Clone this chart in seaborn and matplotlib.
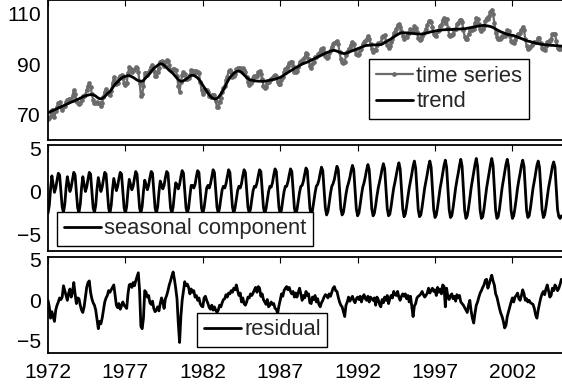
import numpy as np
import pandas as pd
import matplotlib
matplotlib.use("Agg")  # no display
import matplotlib.pyplot as plt
import seaborn as sns

# monthly values, Jan 1972 .. Mar 2005, one row per year
trend_rows = [
    [70.8, 71.0, 71.3, 71.5, 71.7, 72.0, 72.2, 72.4, 72.7, 72.9, 73.1, 73.4],
    [73.6, 73.8, 74.1, 74.3, 74.5, 74.8, 75.0, 75.2, 75.4, 75.7, 75.9, 76.1],
    [76.3, 76.6, 76.8, 77.1, 77.3, 77.5, 77.7, 77.8, 77.9, 78.0, 78.0, 77.9],
    [77.7, 77.4, 77.0, 76.6, 76.4, 76.3, 76.5, 76.8, 77.2, 77.8, 78.4, 78.8],
    [79.2, 79.9, 80.6, 81.4, 82.1, 82.6, 83.0, 83.6, 84.1, 84.5, 84.9, 85.1],
    [85.2, 85.4, 85.5, 85.5, 85.3, 85.1, 84.8, 84.5, 84.1, 83.8, 83.5, 83.4],
    [83.3, 83.3, 83.6, 84.2, 84.8, 85.3, 85.8, 86.5, 87.2, 87.8, 88.4, 88.8],
    [89.2, 89.6, 90.0, 90.2, 90.2, 90.0, 89.6, 89.2, 88.7, 88.1, 87.6, 87.2],
    [86.8, 86.3, 85.7, 85.1, 84.5, 84.0, 83.5, 83.3, 83.3, 83.5, 83.8, 84.1],
    [84.5, 84.9, 85.3, 85.6, 85.7, 85.6, 85.3, 85.0, 84.6, 84.0, 83.3, 82.5],
    [81.7, 80.9, 80.2, 79.4, 78.6, 77.9, 77.3, 76.8, 76.5, 76.3, 76.3, 76.5],
    [76.9, 77.5, 78.3, 79.1, 80.0, 80.9, 82.0, 83.0, 83.9, 84.7, 85.4, 85.9],
    [86.4, 86.8, 87.1, 87.3, 87.3, 87.1, 86.8, 86.3, 85.8, 85.3, 84.8, 84.4],
    [84.0, 83.8, 83.7, 83.6, 83.5, 83.4, 83.4, 83.3, 83.3, 83.3, 83.3, 83.3],
    [83.3, 83.4, 83.5, 83.6, 83.7, 83.8, 83.9, 84.0, 84.1, 84.3, 84.4, 84.6],
    [84.8, 85.1, 85.4, 85.8, 86.1, 86.4, 86.8, 87.1, 87.4, 87.7, 88.0, 88.3],
    [88.6, 88.9, 89.2, 89.5, 89.8, 90.1, 90.3, 90.5, 90.7, 90.9, 91.1, 91.4],
    [91.6, 91.9, 92.1, 92.4, 92.6, 92.9, 93.1, 93.4, 93.6, 93.9, 94.1, 94.4],
    [94.6, 94.8, 95.0, 95.2, 95.4, 95.5, 95.5, 95.4, 95.2, 95.0, 94.8, 94.6],
    [94.4, 94.3, 94.3, 94.4, 94.6, 94.8, 95.0, 95.2, 95.4, 95.6, 95.8, 96.0],
    [96.2, 96.4, 96.6, 96.8, 97.0, 97.2, 97.4, 97.5, 97.5, 97.6, 97.6, 97.7],
    [97.7, 97.7, 97.7, 97.7, 97.8, 97.8, 97.8, 98.0, 98.3, 98.6, 98.9, 99.2],
    [99.5, 99.8, 100.1, 100.5, 100.8, 101.2, 101.5, 101.8, 102.1, 102.3, 102.5, 102.5],
    [102.5, 102.5, 102.4, 102.4, 102.3, 102.3, 102.3, 102.2, 102.2, 102.1, 102.1, 102.0],
    [102.0, 102.0, 102.0, 102.1, 102.2, 102.4, 102.5, 102.6, 102.8, 102.9, 103.0, 103.1],
    [103.2, 103.3, 103.4, 103.4, 103.5, 103.6, 103.7, 103.7, 103.7, 103.8, 103.8, 103.8],
    [103.8, 103.8, 103.9, 103.9, 103.9, 104.0, 104.0, 104.0, 104.0, 104.1, 104.1, 104.1],
    [104.2, 104.3, 104.4, 104.5, 104.6, 104.7, 104.8, 104.9, 105.0, 105.1, 105.2, 105.3],
    [105.3, 105.4, 105.4, 105.4, 105.3, 105.2, 105.1, 105.0, 104.8, 104.6, 104.3, 104.0],
    [103.7, 103.4, 103.2, 102.9, 102.7, 102.5, 102.3, 102.1, 101.9, 101.8, 101.7, 101.6],
    [101.5, 101.4, 101.2, 101.0, 100.8, 100.6, 100.4, 100.2, 100.0, 99.8, 99.6, 99.4],
    [99.2, 99.1, 99.0, 98.8, 98.7, 98.6, 98.4, 98.3, 98.2, 98.1, 98.0, 97.9],
    [97.8, 97.8, 97.7, 97.7, 97.6, 97.6, 97.5, 97.5, 97.5, 97.4, 97.4, 97.4],
    [97.3, 97.3, 97.2],
]

seasonal_rows = [
    [-2.5, -1.6, 0.3, 1.8, 0.8, -0.1, 0.4, 1.3, 2.1, 1.9, 0.0, -1.8],
    [-2.4, -1.5, 0.4, 1.7, 0.9, 0.0, 0.5, 1.4, 2.2, 1.9, -0.1, -1.9],
    [-2.4, -1.5, 0.4, 1.7, 0.8, 0.0, 0.5, 1.4, 2.2, 2.0, 0.0, -1.9],
    [-2.4, -1.6, 0.3, 1.6, 0.8, 0.0, 0.5, 1.4, 2.2, 2.0, 0.0, -1.9],
    [-2.5, -1.6, 0.2, 1.5, 0.8, 0.1, 0.6, 1.5, 2.2, 2.0, 0.0, -1.9],
    [-2.5, -1.7, 0.1, 1.4, 0.8, 0.2, 0.6, 1.5, 2.3, 2.0, 0.0, -1.9],
    [-2.5, -1.7, 0.0, 1.3, 0.8, 0.2, 0.7, 1.6, 2.3, 2.1, 0.1, -1.9],
    [-2.5, -1.8, -0.1, 1.2, 0.8, 0.3, 0.7, 1.6, 2.3, 2.1, 0.1, -1.9],
    [-2.5, -1.8, -0.3, 1.0, 0.8, 0.3, 0.8, 1.7, 2.4, 2.1, 0.1, -1.9],
    [-2.5, -1.9, -0.5, 0.7, 0.7, 0.4, 0.8, 1.7, 2.4, 2.2, 0.1, -1.9],
    [-2.5, -1.9, -0.7, 0.4, 0.7, 0.4, 0.9, 1.7, 2.5, 2.2, 0.2, -1.8],
    [-2.5, -1.9, -0.8, 0.2, 0.6, 0.4, 0.9, 1.7, 2.5, 2.2, 0.2, -1.8],
    [-2.5, -1.9, -0.9, 0.1, 0.6, 0.4, 0.9, 1.8, 2.5, 2.2, 0.2, -1.8],
    [-2.5, -2.0, -0.9, 0.1, 0.6, 0.5, 1.0, 1.8, 2.5, 2.3, 0.2, -1.8],
    [-2.6, -2.0, -1.0, 0.0, 0.6, 0.5, 1.0, 1.9, 2.6, 2.3, 0.2, -1.8],
    [-2.6, -2.1, -1.0, 0.0, 0.6, 0.6, 1.1, 1.9, 2.6, 2.3, 0.2, -1.9],
    [-2.6, -2.1, -1.1, -0.1, 0.6, 0.7, 1.2, 2.0, 2.7, 2.4, 0.2, -1.9],
    [-2.7, -2.2, -1.2, -0.2, 0.6, 0.8, 1.3, 2.1, 2.8, 2.4, 0.2, -1.9],
    [-2.7, -2.3, -1.3, -0.2, 0.6, 0.9, 1.4, 2.2, 2.9, 2.5, 0.2, -2.0],
    [-2.7, -2.4, -1.4, -0.3, 0.5, 1.0, 1.6, 2.4, 3.0, 2.5, 0.2, -2.0],
    [-2.8, -2.5, -1.5, -0.4, 0.5, 1.0, 1.7, 2.5, 3.1, 2.5, 0.2, -2.0],
    [-2.8, -2.5, -1.6, -0.5, 0.4, 1.1, 1.8, 2.6, 3.2, 2.6, 0.3, -2.0],
    [-2.8, -2.6, -1.7, -0.6, 0.4, 1.1, 1.9, 2.7, 3.3, 2.6, 0.3, -2.0],
    [-2.9, -2.6, -1.7, -0.6, 0.4, 1.2, 2.0, 2.9, 3.5, 2.7, 0.3, -2.1],
    [-2.9, -2.7, -1.8, -0.7, 0.4, 1.2, 2.0, 2.9, 3.5, 2.8, 0.3, -2.1],
    [-3.0, -2.7, -1.8, -0.7, 0.4, 1.2, 2.1, 3.0, 3.6, 2.8, 0.3, -2.1],
    [-3.0, -2.8, -1.9, -0.7, 0.4, 1.3, 2.1, 3.0, 3.7, 2.9, 0.3, -2.2],
    [-3.1, -2.8, -1.9, -0.8, 0.4, 1.3, 2.2, 3.1, 3.8, 2.9, 0.3, -2.2],
    [-3.1, -2.9, -2.0, -0.8, 0.4, 1.3, 2.2, 3.1, 3.8, 3.0, 0.3, -2.2],
    [-3.1, -2.9, -2.0, -0.8, 0.4, 1.3, 2.2, 3.1, 3.7, 2.9, 0.3, -2.2],
    [-3.1, -2.8, -1.9, -0.8, 0.4, 1.3, 2.1, 3.0, 3.6, 2.9, 0.3, -2.2],
    [-3.0, -2.8, -1.9, -0.7, 0.4, 1.2, 2.1, 3.0, 3.5, 2.8, 0.3, -2.1],
    [-3.0, -2.7, -1.8, -0.7, 0.4, 1.2, 2.0, 2.9, 3.4, 2.8, 0.3, -2.1],
    [-2.9, -3.1, -2.8],
]

residual_rows = [
    [0.0, -0.8, -2.2, -1.4, -2.0, -2.6, -1.2, -0.6, -0.2, 0.3, 0.1, 0.4],
    [1.8, 1.2, 0.6, 0.0, 0.9, 1.4, 0.4, 1.0, 2.2, 0.8, -0.4, 0.3],
    [0.2, -0.6, -1.2, -1.5, -0.8, 0.4, 1.6, 2.2, 2.4, 1.0, 0.2, -0.3],
    [-0.6, -1.2, -2.4, -3.5, -2.6, -2.9, -2.2, -1.2, -0.2, 0.3, 0.6, 1.2],
    [1.0, 1.3, 1.6, 1.9, 0.6, -0.6, -0.9, -0.4, -1.1, -0.7, -0.2, -0.6],
    [-0.8, -1.0, 0.8, 1.9, 2.0, 1.6, 2.2, 1.8, 2.4, 2.9, 3.4, 1.2],
    [-3.2, -3.5, -2.2, 1.2, 1.0, 0.4, 0.6, -0.3, -0.5, -0.1, -1.0, -1.4],
    [-1.2, -0.8, -1.3, -0.4, 0.3, -0.2, -1.0, 0.2, 0.6, 1.2, 1.9, 2.4],
    [3.0, 3.5, 2.6, 1.5, 0.2, -2.8, -5.2, -2.0, 0.0, 1.2, 2.3, 1.8],
    [2.0, 1.6, 0.8, 1.4, 1.0, 1.2, 0.4, 0.6, 0.0, 0.3, -0.4, -0.7],
    [-0.8, 0.3, 0.5, 0.0, -0.4, -0.9, -1.1, -0.6, -1.2, -0.8, -1.2, -1.5],
    [-1.2, -0.6, -0.8, -0.3, 0.1, 0.2, 0.7, 0.4, 0.9, 0.8, 1.2, 1.0],
    [1.5, 1.3, 1.9, 1.2, 0.6, 0.9, -0.2, 0.3, -0.4, -0.6, -0.2, 0.4],
    [0.3, 0.8, 0.6, 0.9, 1.3, 1.6, 1.0, 1.7, 1.5, 0.5, 0.8, 0.1],
    [-0.2, -0.5, 0.1, -0.8, -0.6, -0.2, -0.5, -0.4, -1.0, -1.1, -1.6, -0.7],
    [0.0, 0.8, 0.5, 1.2, 1.5, 1.7, 1.3, 1.6, 1.1, 0.8, 1.1, 0.4],
    [0.9, 0.4, 1.0, 1.5, 0.8, 0.0, 0.6, 0.3, 1.1, 0.6, 0.8, -0.3],
    [-0.4, 0.4, 0.1, 0.6, -0.2, 0.2, -0.5, -0.8, -0.3, 0.0, 0.4, 0.7],
    [0.6, 0.3, 0.8, 0.5, 1.0, 1.5, 1.7, 1.2, 1.1, 0.4, -0.2, -0.6],
    [-0.8, -1.4, -2.0, -0.6, -0.2, 0.4, -0.1, 0.2, 0.5, 0.0, -0.3, 0.2],
    [0.4, 0.1, 0.5, -0.2, 0.4, 0.7, 0.2, 0.0, 0.5, -0.2, 0.4, 0.2],
    [0.0, 0.3, -0.6, 0.4, 0.1, -0.5, -0.8, 0.1, -0.3, 0.4, 0.0, 0.6],
    [-0.4, 0.2, 0.6, 0.3, 1.1, 0.7, 0.6, 1.1, 0.4, 0.0, 0.5, 0.8],
    [0.5, 0.8, 0.2, 0.6, -0.2, 0.5, -0.8, -2.0, -0.7, -0.4, 0.3, 0.5],
    [0.6, 0.8, 1.1, 0.7, 0.4, 0.6, 0.9, 1.5, 0.9, 1.2, 1.5, 1.1],
    [1.3, 0.6, 1.6, 1.0, 1.4, 0.8, 1.9, 1.7, -0.8, 1.5, 0.4, 0.1],
    [0.6, 0.8, 0.2, 0.5, -0.1, 0.7, 0.3, 0.6, -0.2, -0.4, -0.6, -0.9],
    [-1.2, -1.5, -0.6, 0.0, -1.3, -2.2, -2.8, -1.6, -0.6, -0.2, 0.4, 0.9],
    [1.2, 1.6, 1.9, 2.5, 2.6, 1.5, 2.0, 2.6, 3.1, 2.4, 1.9, 0.8],
    [0.4, -0.3, -1.0, -1.6, -2.0, -2.6, -3.4, -3.1, -2.0, -1.4, -0.8, -0.2],
    [0.3, -0.2, 0.4, 0.6, 0.9, 0.2, 0.0, 0.6, 1.3, 0.8, 0.0, 0.2],
    [-0.2, 0.0, -0.3, -0.4, -0.5, -1.0, -1.8, -2.2, -1.2, -0.4, 0.3, 0.8],
    [1.1, 0.7, 1.4, 1.9, 1.2, 0.4, 0.6, 1.5, 1.2, 1.9, 1.6, 1.2],
    [1.5, 2.0, 2.6],
]

start_year = 1972
year_ticks = [1972, 1977, 1982, 1987, 1992, 1997, 2002]

trend = np.concatenate(trend_rows)
seasonal = np.concatenate(seasonal_rows)
residual = np.concatenate(residual_rows)
years = start_year + np.arange(len(trend)) / 12

# additive decomposition: series = trend + seasonal + residual
df = pd.DataFrame({
    "year": years,
    "series": trend + seasonal + residual,
    "trend": trend,
    "seasonal": seasonal,
    "residual": residual,
})

TICK_FS = 15.2
LEG_FS = 15.8

sns.set_style("white")
plt.rcParams['font.family'] = ['Liberation Sans', 'DejaVu Sans']
plt.rcParams['font.size'] = TICK_FS

W, H = 562, 390
LEFT, AX_W = 48, 515  # right spine falls just outside the picture
fig = plt.figure(figsize=(W / 100, H / 100), dpi=100)


def add_panel(top, bottom):
    # panel rectangle given in pixels from the top of the figure
    return fig.add_axes([LEFT / W, 1 - bottom / H, AX_W / W, (bottom - top) / H])


ax1 = add_panel(0, 140)
ax2 = add_panel(145, 251)
ax3 = add_panel(257, 353)

sns.lineplot(data=df, x="year", y="series", ax=ax1, color="#6b6b6b",
             linewidth=1.6, marker="o", markersize=3.4, markeredgewidth=0,
             label="time series")
sns.lineplot(data=df, x="year", y="trend", ax=ax1, color="black",
             linewidth=2.0, label="trend")
sns.lineplot(data=df, x="year", y="seasonal", ax=ax2, color="black",
             linewidth=2.0, label="seasonal component")
sns.lineplot(data=df, x="year", y="residual", ax=ax3, color="black",
             linewidth=2.0, label="residual")

ax1.set_ylim(60, 115.5)
ax1.set_yticks([70, 90, 110])
ax2.set_ylim(-6.85, 5.35)
ax3.set_ylim(-6.5, 5.35)
for ax in (ax2, ax3):
    ax.set_yticks([-5, 0, 5])
    ax.set_yticklabels(["\u22125", "0", "5"])

# legend lower corner, in axes fractions
legend_pos = [
    (ax1, "lower right", ((529 - LEFT) / AX_W, 21 / 140)),
    (ax2, "lower left", ((57 - LEFT) / AX_W, 5 / 106)),
    (ax3, "lower left", ((197 - LEFT) / AX_W, 6 / 96)),
]

for ax in (ax1, ax2, ax3):
    ax.set_xlim(1972, 1972 + AX_W / 15.48)
    ax.set_xticks(year_ticks)
    ax.set_xlabel("")
    ax.set_ylabel("")
    ax.tick_params(axis="both", direction="in", length=4, width=0.8,
                   top=True, right=False, labelsize=TICK_FS, pad=5,
                   colors="black")
    ax.tick_params(axis="x", pad=7)
    for s in ax.spines.values():
        s.set_color("black")
        s.set_linewidth(1.3)

for ax, loc, anchor in legend_pos:
    leg = ax.legend(loc=loc, bbox_to_anchor=anchor, fontsize=LEG_FS,
                    frameon=True, fancybox=False, framealpha=1,
                    edgecolor="black", handlelength=1.7, handletextpad=0.15,
                    borderpad=0.3, labelspacing=0.2, borderaxespad=0)
    leg.get_frame().set_linewidth(1.0)

ax1.tick_params(labelbottom=False)
ax2.tick_params(labelbottom=False)

fig.savefig("out.png", dpi=100)
